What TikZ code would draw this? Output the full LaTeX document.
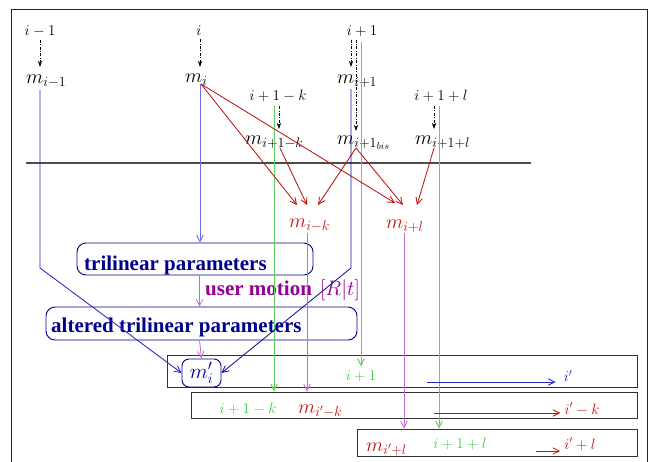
\RequirePackage{fix-cm}
\documentclass[tikz,border=0pt]{standalone}
\usepackage{fontspec}
\newfontfamily\timesfont{Liberation Serif}
\usetikzlibrary{arrows.meta,calc}
\definecolor{mred}{RGB}{190,20,20}
\definecolor{mnavy}{RGB}{0,0,140}
\definecolor{mblue}{RGB}{40,40,200}
\definecolor{lblue}{RGB}{110,110,225}
\definecolor{dblue}{RGB}{20,20,150}
\definecolor{mgreen}{RGB}{70,200,70}
\definecolor{lgreen}{RGB}{95,210,95}
\definecolor{mvio}{RGB}{190,110,210}
\definecolor{mpurple}{RGB}{150,0,150}
\begin{document}
\begin{tikzpicture}[x=1pt,y=-1pt,
  ilab/.style={inner sep=0pt, font=\fontsize{15}{18}\selectfont},
  mlab/.style={inner sep=0pt, anchor=base west, font=\fontsize{20}{24}\selectfont},
  btxt/.style={inner sep=0pt, anchor=base west, font=\fontsize{21}{25}\selectfont\timesfont\bfseries},
  dd/.style={black, line width=0.6pt, dash pattern=on 3pt off 1.5pt on 0.8pt off 1.5pt, -{Stealth[length=6pt,width=4pt]}},
  conn/.style={line width=0.85pt, -{Straight Barb[length=6.5pt,width=6.5pt]}},
  gconn/.style={conn, line width=0.95pt, lgreen},
  rbox/.style={draw=mnavy, line width=0.9pt, rounded corners=9pt, inner sep=0pt},
  sbox/.style={draw=black!80, line width=0.9pt, inner sep=0pt},
]
\useasboundingbox (0,0) rectangle (648,461);
% frame
\draw[black!85, line width=0.8pt] (11,462) -- (11,9) -- (647,9) -- (647,462);

% bottom rectangles
\node[sbox, minimum width=470, minimum height=32] (r1) at (402,371) {};
\node[sbox, minimum width=446, minimum height=26] (r2) at (414,405) {};
\node[sbox, minimum width=280, minimum height=27] (r3) at (497,442.5) {};

% rounded boxes
\node[rbox, minimum width=236, minimum height=32] (tri) at (195,259) {};
\node[rbox, minimum width=311, minimum height=33] (alt) at (201.5,323.5) {};
\node[rbox, rounded corners=7pt, minimum width=39, minimum height=28, text=mnavy, font=\fontsize{21}{25}\selectfont] (mp) at (201.5,373) {$m'_i$};
\node[btxt, text=mnavy] (tritxt) at (84,270) {trilinear parameters};
\node[btxt, text=mnavy] (alttxt) at (51,332) {altered trilinear parameters};
\node[btxt, text=mpurple] (um) at (205,295) {user motion};
\node[inner sep=0pt, anchor=base west, text=mpurple, font=\fontsize{21}{25}\selectfont] (rt) at (320,295) {$[R|t]$};

% index labels
\node[ilab] (t1) at (40,31) {$i-1$};
\node[ilab] (t2) at (199,31) {$i$};
\node[ilab] (t3) at (362,31) {$i+1$};
\node[ilab] (t4) at (278,96) {$i+1-k$};
\node[ilab] (t5) at (441,96) {$i+1+l$};

% m labels
\node[mlab] (ma) at (26,83) {$m_{i-1}$};
\node[mlab] (mb) at (185,82) {$m_i$};
\node[mlab] (mc) at (337,83) {$m_{i+1}$};
\node[mlab] (md) at (245,144) {$m_{i+1-k}$};
\node[mlab] (me) at (337,144) {$m_{{i+1}_{bis}}$};
\node[mlab] (mf) at (415,144) {$m_{i+1+l}$};
\node[mlab, text=mred] (mg) at (289,227) {$m_{i-k}$};
\node[mlab, text=mred] (mh) at (386,228) {$m_{i+l}$};

% labels in rectangles
\node[ilab, text=mgreen] (g1) at (361,376) {$i+1$};
\node[ilab, text=mblue] (ip) at (568,376) {$i'$};
\node[ilab, text=mgreen] (g2) at (248,409) {$i+1-k$};
\node[mlab, text=mred] (mik) at (298,413) {$m_{i'-k}$};
\node[ilab, text=mred] (ipk) at (582,409) {$i'-k$};
\node[mlab, text=mred] (mipl) at (366,451) {$m_{i'+l}$};
\node[ilab, text=mgreen] (g3) at (460,444) {$i+1+l$};
\node[ilab, text=mred] (ipl) at (580,444) {$i'+l$};

% horizontal separator
\coordinate (hl) at (26,163);
\coordinate (hr) at (531,163);
\draw[black!70, line width=1.2pt] (hl) -- (hr);

% dash-dot arrows
\draw[dd] ($(t1.south)+(0,3)$) -- ($(ma.base west)+(14,-16)$);
\draw[dd] ($(t2.south)+(1,3)$) -- ($(mb.base west)+(15,-15)$);
\draw[dd] ($(t3.south)+(-11,3)$) -- ($(mc.base west)+(14,-16)$);
\draw[dd] ($(t3.south)+(-6,3)$) -- ($(me.base west)+(19,-13)$);
\draw[dd] ($(t4.south)+(1,4)$) -- ($(md.base west)+(34,-15)$);
\draw[dd] ($(t5.south)+(-7,4)$) -- ($(mf.base west)+(19,-15)$);

% green lines
\coordinate (ga) at ($(t3.south)+(-1,5)$);
\coordinate (gb) at ($(t4.south)+(-4,4)$);
\coordinate (gc) at ($(t5.south)+(-2,4)$);
\draw[gconn] (ga) -- ($(g1.north)+(0,-4)$);
\draw[gconn] (gb) -- (gb |- r2.north);
\draw[gconn] (gc) -- (gc |- r3.north);

% red arrows
\draw[conn, mred] ($(mb.base west)+(16,2)$) -- ($(mg.base west)+(8,-22)$);
\draw[conn, mred] ($(mb.base west)+(16,2)$) -- ($(mh.base west)+(9,-25)$);
\draw[conn, mred] ($(md.base west)+(35,4)$) -- ($(mg.base west)+(18,-22)$);
\draw[conn, mred] ($(me.base west)+(19,4)$) -- ($(mg.base west)+(29,-22)$);
\draw[conn, mred] ($(me.base west)+(19,4)$) -- ($(mh.base west)+(17,-23)$);
\draw[conn, mred] ($(mf.base west)+(19,4)$) -- ($(mh.base west)+(31,-23)$);

% blue lines
\draw[conn, mblue] ($(ma.base west)+(14,7)$) -- ++(0,178) -- (mp.west);
\draw[conn, lblue] ($(mb.base west)+(15,2)$) coordinate (bb) -- (bb |- tri.north);
\draw[conn, dblue] ($(mc.base west)+(14,6)$) -- ++(0,179) -- (mp.east);

% magenta lines
\draw[conn, mvio] ($(tri.south west)+(123,0)$) -- ($(alt.north west)+(154,0)$);
\draw[conn, mvio] ($(alt.south west)+(154,0)$) -- (mp.north);
\coordinate (va) at ($(mg.base west)+(18,6)$);
\coordinate (vb) at ($(mh.base west)+(18,5)$);
\draw[conn, mvio] (va) -- (va |- r2.north);
\draw[conn, mvio] (vb) -- (vb |- r3.north);

% horizontal arrows in rectangles
\draw[conn, mblue] ($(ip.west)+(-137,6)$) -- ($(ip.west)+(-8,6)$);
\draw[conn, mred] ($(ipk.west)+(-130,4)$) -- ($(ipk.west)+(-4,4)$);
\draw[conn, mred] ($(ipl.west)+(-28,7)$) -- ($(ipl.west)+(-4,7)$);
\end{tikzpicture}
\end{document}
